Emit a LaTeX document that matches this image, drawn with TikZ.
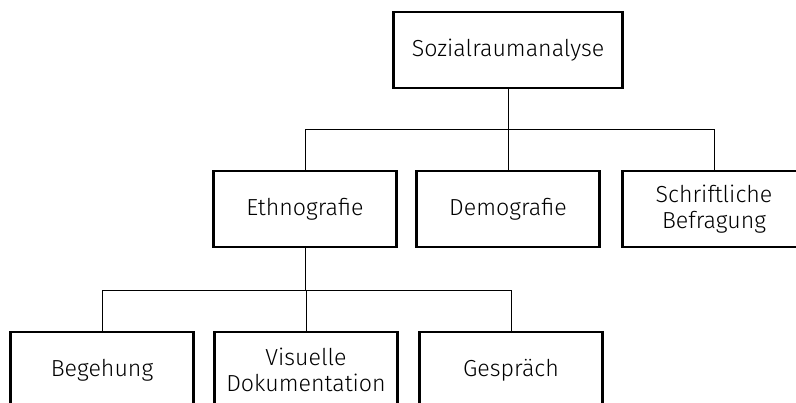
\documentclass[tikz,border=0pt]{standalone}
\usepackage{fontspec}
\setmainfont{Fira Sans}[UprightFont=* Light]
\usepackage{tikz}
\usetikzlibrary{positioning,calc}

\begin{document}
\begin{tikzpicture}[
  x=1pt, y=-1pt,
  font=\fontsize{23.2}{26}\selectfont,
  box/.style={draw, line width=2.2pt, minimum width=183pt, minimum height=76pt,
    align=center, inner sep=0pt},
  conn/.style={line width=0.9pt}
]
\useasboundingbox (0,0) rectangle (796,403);

% top level
\node[box, minimum width=229pt] (sozial) at (508,50) {Sozialraumanalyse};

% second row
\node[box] (ethno) at (305,209) {Ethnografie};
\node[box] (demo) at (508,209) {Demografie};
\node[box] (schrift) at (714,209) {Schriftliche\\Befragung};

% third row
\node[box] (begeh) at (102,370) {Begehung};
\node[box] (visuell) at (306,370) {Visuelle\\Dokumentation};
\node[box] (gespr) at (511,370) {Gespräch};

% bus lines
\coordinate (busA) at (0,129);
\coordinate (busB) at (0,290);

\draw[conn] (sozial.south) -- (demo.north);
\draw[conn] (ethno.north) |- (schrift.north |- busA) -- (schrift.north);
\draw[conn] (ethno.south) -- (ethno.south |- busB);
\draw[conn] (begeh.north) |- (gespr.north |- busB) -- (gespr.north);
\draw[conn] (visuell.north) -- (visuell.north |- busB);

\end{tikzpicture}
\end{document}
